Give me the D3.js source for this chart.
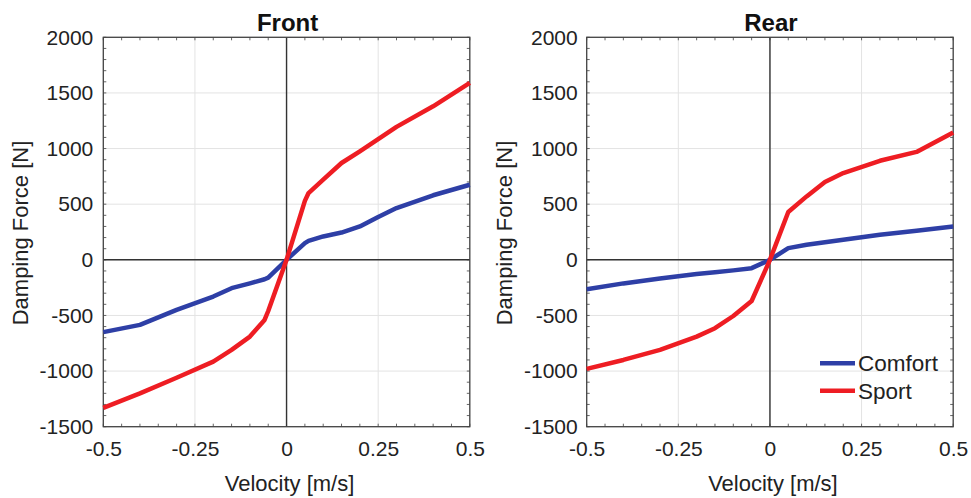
<!DOCTYPE html>
<html><head><meta charset="utf-8">
<script src="https://cdn.jsdelivr.net/npm/d3@7"></script>
<style>body{margin:0;background:#fff;} svg{display:block;font-family:"Liberation Sans",Arial,sans-serif;}</style>
</head><body><svg id="c" width="971" height="498"></svg>
<script>
const panels = ["Front", "Rear"];
const seriesNames = ["Comfort", "Sport"];
const seriesColors = ["#2e3fa6", "#ee1d23"];
const xTicks = [-0.5, -0.25, 0, 0.25, 0.5];
const xTickLabels = ["-0.5", "-0.25", "0", "0.25", "0.5"];
const yTicks = [-1500, -1000, -500, 0, 500, 1000, 1500, 2000];
const yTickLabels = ["-1500", "-1000", "-500", "0", "500", "1000", "1500", "2000"];
const xLabel = "Velocity [m/s]";
const yLabel = "Damping Force [N]";

const frontVel   = [-0.5, -0.4, -0.3, -0.2, -0.15, -0.1, -0.06, -0.05, 0, 0.05, 0.06, 0.1, 0.15, 0.2, 0.25, 0.3, 0.4, 0.5];
const frontComfort = [-650, -585, -450, -330, -255, -212, -175, -160, 0, 150, 170, 210, 245, 300, 385, 465, 580, 675];
const frontSport   = [-1330, -1200, -1060, -915, -810, -690, -540, -460, 0, 530, 600, 720, 870, 975, 1085, 1195, 1380, 1590];

const rearVel    = [-0.5, -0.4, -0.3, -0.2, -0.15, -0.1, -0.05, 0, 0.05, 0.1, 0.15, 0.2, 0.3, 0.4, 0.5];
const rearComfort  = [-265, -212, -168, -128, -112, -95, -75, 0, 105, 135, 158, 180, 225, 262, 300];
const rearSport    = [-980, -900, -810, -690, -615, -505, -370, 0, 430, 570, 700, 780, 890, 970, 1145];

const panelData = [
  {vel: frontVel, series: [frontComfort, frontSport]},
  {vel: rearVel, series: [rearComfort, rearSport]}
];

const svg = d3.select("#c");
const plotLefts = [103.3, 586.7];
const yPads = [10, 9];
const plotW = 366.5;
const pTop = 37.3, pBottom = 426.7;

panels.forEach((name, pi) => {
  const x0 = plotLefts[pi];
  const x = d3.scaleLinear().domain([-0.5, 0.5]).range([x0, x0 + plotW]);
  const y = d3.scaleLinear().domain([-1500, 2000]).range([pBottom, pTop]);
  const g = svg.append("g");

  // grid
  g.selectAll(".gx").data(xTicks).join("line")
    .attr("x1", d => x(d)).attr("x2", d => x(d)).attr("y1", pTop).attr("y2", pBottom)
    .attr("stroke", "#e3e3e3").attr("stroke-width", 1);
  g.selectAll(".gy").data(yTicks).join("line")
    .attr("x1", x0).attr("x2", x0 + plotW).attr("y1", d => y(d)).attr("y2", d => y(d))
    .attr("stroke", "#e3e3e3").attr("stroke-width", 1);

  // minor inside ticks
  const xm = d3.range(-0.5, 0.5001, 0.05);
  const ym = d3.range(-1500, 2001, 100);
  g.selectAll(".tb").data(xm).join("line")
    .attr("x1", d => x(d)).attr("x2", d => x(d)).attr("y1", pBottom).attr("y2", pBottom - 3)
    .attr("stroke", "#666").attr("stroke-width", 1);
  g.selectAll(".tt").data(xm).join("line")
    .attr("x1", d => x(d)).attr("x2", d => x(d)).attr("y1", pTop).attr("y2", pTop + 3)
    .attr("stroke", "#666").attr("stroke-width", 1);
  g.selectAll(".tl").data(ym).join("line")
    .attr("x1", x0).attr("x2", x0 + 3).attr("y1", d => y(d)).attr("y2", d => y(d))
    .attr("stroke", "#666").attr("stroke-width", 1);
  g.selectAll(".tr").data(ym).join("line")
    .attr("x1", x0 + plotW).attr("x2", x0 + plotW - 3).attr("y1", d => y(d)).attr("y2", d => y(d))
    .attr("stroke", "#666").attr("stroke-width", 1);

  // zero lines
  g.append("line").attr("x1", x(0)).attr("x2", x(0)).attr("y1", pTop).attr("y2", pBottom)
    .attr("stroke", "#333").attr("stroke-width", 1.4);
  g.append("line").attr("x1", x0).attr("x2", x0 + plotW).attr("y1", y(0)).attr("y2", y(0))
    .attr("stroke", "#333").attr("stroke-width", 1.4);

  // frame
  g.append("rect").attr("x", x0).attr("y", pTop).attr("width", plotW).attr("height", pBottom - pTop)
    .attr("fill", "none").attr("stroke", "#444").attr("stroke-width", 1.3);

  // axes labels via d3 axes
  const xa = g.append("g").attr("transform", `translate(0,${pBottom})`)
    .call(d3.axisBottom(x).tickValues(xTicks).tickFormat((d, i) => xTickLabels[i]).tickSize(0).tickPadding(14));
  const ya = g.append("g").attr("transform", `translate(${x0},0)`)
    .call(d3.axisLeft(y).tickValues(yTicks).tickFormat((d, i) => yTickLabels[i]).tickSize(0).tickPadding(yPads[pi]));
  [xa, ya].forEach(a => {
    a.select(".domain").remove();
    a.selectAll("text").attr("font-size", 21).attr("fill", "#222").attr("font-family", "Liberation Sans, Arial, sans-serif");
  });

  // lines
  const pd = panelData[pi];
  pd.series.forEach((vals, si) => {
    const line = d3.line().x((d, i) => x(pd.vel[i])).y(d => y(d));
    g.append("path").datum(vals).attr("d", line)
      .attr("fill", "none").attr("stroke", seriesColors[si]).attr("stroke-width", 4.5)
      .attr("stroke-linejoin", "round");
  });

  // title
  g.append("text").attr("x", x(0) + 1).attr("y", 31).attr("text-anchor", "middle")
    .attr("font-size", 24).attr("font-weight", "bold").attr("fill", "#111").text(name);
  // x label
  g.append("text").attr("x", x(0) + 3).attr("y", 491).attr("text-anchor", "middle")
    .attr("font-size", 22).attr("fill", "#222").text(xLabel);
  // y label
  g.append("text").attr("transform", `translate(${x0 - 75},${(pTop + pBottom) / 2 + 1}) rotate(-90)`)
    .attr("text-anchor", "middle").attr("font-size", 22).attr("fill", "#222").text(yLabel);
});

// legend in rear panel
const lg = svg.append("g");
seriesNames.forEach((n, i) => {
  const ly = 363.3 + i * 27.5;
  lg.append("line").attr("x1", 820).attr("x2", 855).attr("y1", ly).attr("y2", ly)
    .attr("stroke", seriesColors[i]).attr("stroke-width", 4.5);
  lg.append("text").attr("x", 858).attr("y", ly + 8).attr("font-size", 22.5).attr("fill", "#222").text(n);
});
</script></body></html>
